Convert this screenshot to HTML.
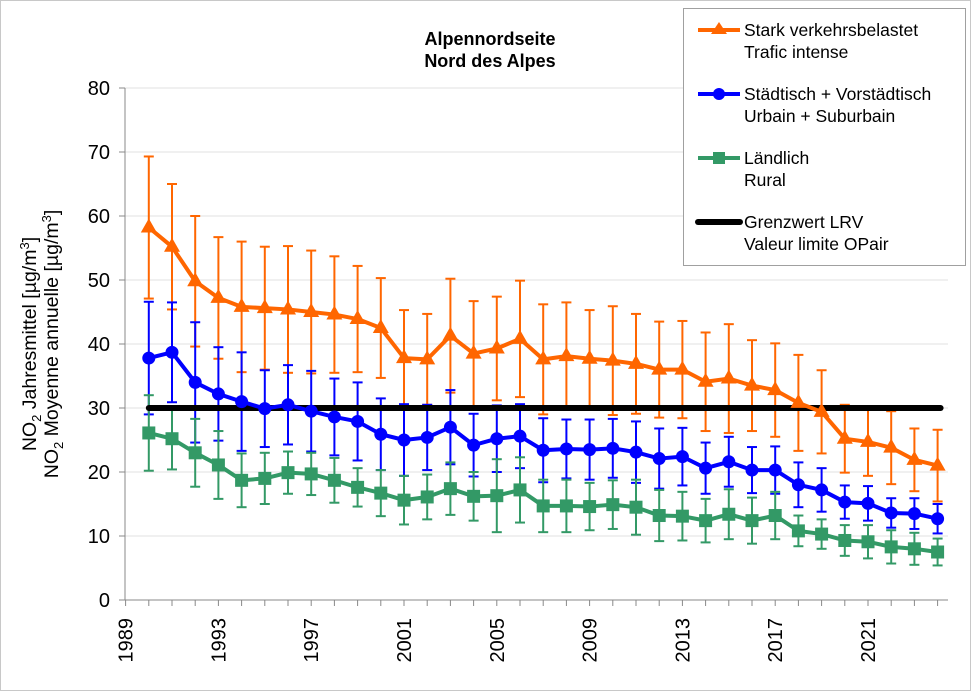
<!DOCTYPE html><html><head><meta charset="utf-8"><style>
body{margin:0;background:#fff}
svg{display:block;font-family:"Liberation Sans",Arial,sans-serif}
</style></head><body>
<svg id="s" width="972" height="692" xmlns="http://www.w3.org/2000/svg">
<rect x="0.5" y="0.5" width="970" height="690" fill="#fff" stroke="#c8c8c8"/>
<g id="grid"></g>
<g id="err"></g>
<g id="lines"></g>
<text x="490" y="45" font-size="18" font-weight="bold" text-anchor="middle">Alpennordseite</text>
<text x="490" y="67" font-size="18" font-weight="bold" text-anchor="middle">Nord des Alpes</text>
<g font-size="19.5" fill="#000">
<text transform="translate(36,344) rotate(-90)" text-anchor="middle">NO<tspan font-size="13" dy="5">2</tspan><tspan dy="-5"> Jahresmittel [µg/m</tspan><tspan font-size="13" dy="-7">3</tspan><tspan dy="7">]</tspan></text>
<text transform="translate(58,344) rotate(-90)" text-anchor="middle">NO<tspan font-size="13" dy="5">2</tspan><tspan dy="-5"> Moyenne annuelle [µg/m</tspan><tspan font-size="13" dy="-7">3</tspan><tspan dy="7">]</tspan></text>
</g>
<rect x="683.5" y="8.5" width="282" height="257" fill="#fff" stroke="#a0a0a0"/>
<g font-size="17.5" fill="#000">
<line x1="698" y1="30" x2="740" y2="30" stroke="#ff6600" stroke-width="4"/><polygon points="719,22 727,34 711,34" fill="#ff6600"/>
<text x="744" y="36">Stark verkehrsbelastet</text><text x="744" y="58">Trafic intense</text>
<line x1="698" y1="94" x2="740" y2="94" stroke="#0000ff" stroke-width="4"/><circle cx="719" cy="94" r="6" fill="#0000ff"/>
<text x="744" y="100">Städtisch + Vorstädtisch</text><text x="744" y="122">Urbain + Suburbain</text>
<line x1="698" y1="158" x2="740" y2="158" stroke="#339966" stroke-width="4"/><rect x="713" y="152" width="12" height="12" fill="#339966"/>
<text x="744" y="164">Ländlich</text><text x="744" y="186">Rural</text>
<line x1="698" y1="222" x2="740" y2="222" stroke="#000" stroke-width="6" stroke-linecap="round"/>
<text x="744" y="228">Grenzwert LRV</text><text x="744" y="250">Valeur limite OPair</text>
</g>
</svg>
<script>
const NS="http://www.w3.org/2000/svg";
function el(p,t,a){const e=document.createElementNS(NS,t);for(const k in a)e.setAttribute(k,a[k]);document.getElementById(p).appendChild(e);return e;}
const X=y=>125.6+(y-1989)*23.2, Y=v=>600-v*6.4;
for(let v=0;v<=80;v+=10){
 if(v>0)el("grid","line",{x1:125,x2:948,y1:Y(v),y2:Y(v),stroke:"#e0e0e0","stroke-width":1});
 el("grid","line",{x1:119,x2:125,y1:Y(v),y2:Y(v),stroke:"#888"});
 const t=el("grid","text",{x:110,y:Y(v)+7,"font-size":20,"text-anchor":"end"});t.textContent=v;
}
el("grid","line",{x1:125,x2:948,y1:600,y2:600,stroke:"#888"});
el("grid","line",{x1:125,x2:125,y1:88,y2:600,stroke:"#888"});
for(let y=1989;y<=2024;y++){el("grid","line",{x1:X(y),x2:X(y),y1:600,y2:606,stroke:"#888"});
 if((y-1989)%4==0){const t=el("grid","text",{transform:`translate(${X(y)+7},618) rotate(-90)`,"font-size":20,"text-anchor":"end"});t.textContent=y;}}
const O=[58.2,55.2,49.8,47.2,45.8,45.6,45.4,45.0,44.6,43.9,42.5,37.8,37.6,41.3,38.5,39.3,40.8,37.6,38.1,37.7,37.4,36.9,36.0,36.0,34.1,34.6,33.5,32.8,30.8,29.4,25.2,24.7,23.8,21.9,21.0];
const OU=[69.3,65,60,56.7,56,55.2,55.3,54.6,53.7,52.2,50.3,45.3,44.7,50.2,46.7,47.4,49.9,46.2,46.5,45.3,45.9,44.7,43.5,43.6,41.8,43.1,40.6,40.1,38.3,35.9,30.5,30,29.5,26.8,26.6];
const B=[37.8,38.7,34.0,32.2,31.0,29.9,30.5,29.5,28.6,27.9,25.9,25.0,25.4,27.0,24.2,25.2,25.6,23.4,23.6,23.5,23.7,23.1,22.1,22.4,20.6,21.6,20.3,20.3,18.0,17.2,15.3,15.1,13.6,13.5,12.7];
const BU=[46.6,46.5,43.4,39.5,38.7,35.9,36.7,35.8,34.6,34.0,31.5,30.6,30.5,32.8,29.1,30.4,30.6,28.4,28.2,28.2,28.3,27.9,26.8,26.9,24.6,25.5,23.9,24.0,21.5,20.6,17.9,17.8,15.9,15.9,15.0];
const G=[26.1,25.2,23.0,21.1,18.7,19.0,19.9,19.7,18.7,17.6,16.7,15.6,16.1,17.4,16.2,16.3,17.2,14.7,14.7,14.6,14.9,14.5,13.2,13.1,12.4,13.4,12.4,13.2,10.8,10.3,9.3,9.1,8.3,8.0,7.5];
const GU=[32,30,28.3,26.4,22.9,23,23.2,23,22.2,20.6,20.3,19.4,19.6,21.5,20,22,22.3,18.8,18.8,18.3,18.7,18.8,17.2,16.9,15.8,17.3,16,16.9,13.2,12.6,11.7,11.7,10.9,10.5,9.6];
function err(d,u,c){d.forEach((v,i)=>{const x=X(1990+i),e=u[i]-v,a=Y(v+e),b=Y(Math.max(0,v-e));
 el("err","line",{x1:x,x2:x,y1:a,y2:b,stroke:c,"stroke-width":2});
 el("err","line",{x1:x-5,x2:x+5,y1:a,y2:a,stroke:c,"stroke-width":2});
 el("err","line",{x1:x-5,x2:x+5,y1:b,y2:b,stroke:c,"stroke-width":2});});}
err(O,OU,"#ff6600");err(B,BU,"#0000ff");err(G,GU,"#339966");
function line(d,c,m){el("lines","polyline",{points:d.map((v,i)=>X(1990+i)+","+Y(v)).join(" "),fill:"none",stroke:c,"stroke-width":4,"stroke-linejoin":"round"});
 d.forEach((v,i)=>{const x=X(1990+i),y=Y(v);
  if(m=="t")el("lines","polygon",{points:`${x},${y-9} ${x+8},${y+5} ${x-8},${y+5}`,fill:c});
  else if(m=="c")el("lines","circle",{cx:x,cy:y,r:6.5,fill:c});
  else el("lines","rect",{x:x-6.5,y:y-6.5,width:13,height:13,fill:c});});}
el("lines","line",{x1:X(1990),x2:X(2024)+3,y1:Y(30),y2:Y(30),stroke:"#000","stroke-width":6,"stroke-linecap":"round"});
line(G,"#339966","s");line(B,"#0000ff","c");line(O,"#ff6600","t");
</script>
</body></html>
